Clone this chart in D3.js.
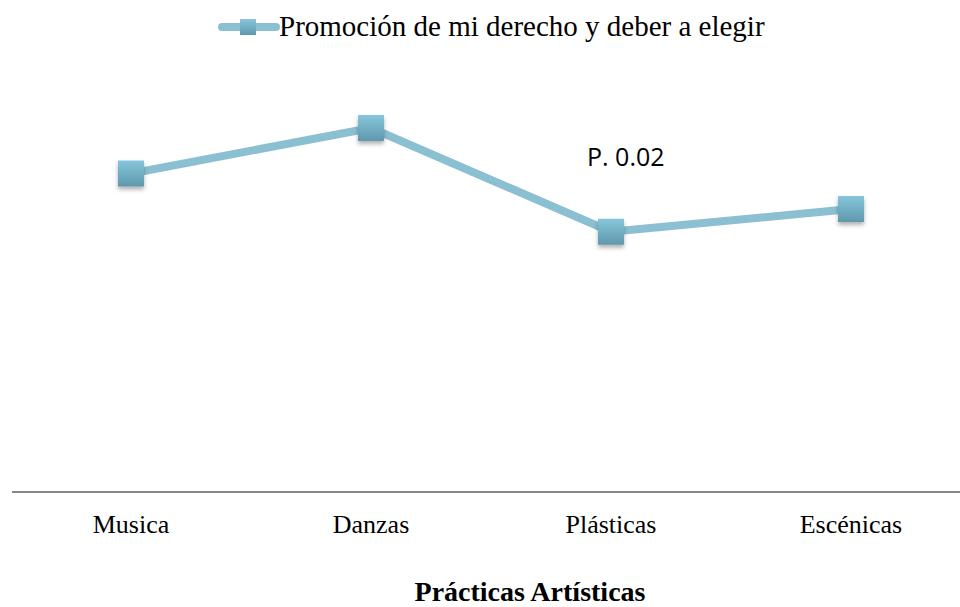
<!DOCTYPE html>
<html>
<head>
<meta charset="utf-8">
<script src="https://cdn.jsdelivr.net/npm/d3@7"></script>
<style>
  body { margin: 0; background: #fff; }
  svg { display: block; }
</style>
</head>
<body>
<svg id="chart" width="960" height="607"></svg>
<script>
// data (no y axis shown, values estimated)
const categories = ['Musica', 'Danzas', 'Plásticas', 'Escénicas'];
const values = [3.5, 4.0, 2.86, 3.11];
const seriesName = 'Promoción de mi derecho y deber a elegir';
const annotation = 'P. 0.02';
const axisTitle = 'Prácticas Artísticas';

const svg = d3.select('#chart');

const x = d3.scaleBand().domain(categories).range([11, 971]);
const y = d3.scaleLinear().domain([0, 5]).range([492, 37]);

// gradient + shadow for the square markers
const defs = svg.append('defs');
const grad = defs.append('linearGradient')
  .attr('id', 'mk').attr('x1', 0).attr('y1', 0).attr('x2', 0).attr('y2', 1);
grad.append('stop').attr('offset', '0%').attr('stop-color', '#86c6dc');
grad.append('stop').attr('offset', '100%').attr('stop-color', '#5f98ad');
const shadow = defs.append('filter').attr('id', 'sh')
  .attr('x', '-50%').attr('y', '-50%').attr('width', '200%').attr('height', '200%');
shadow.append('feDropShadow')
  .attr('dx', 0).attr('dy', 3).attr('stdDeviation', 2)
  .attr('flood-color', '#000').attr('flood-opacity', 0.3);

// x axis line
svg.append('line')
  .attr('x1', 12).attr('x2', 960)
  .attr('y1', y(0)).attr('y2', y(0))
  .attr('stroke', '#878787').attr('stroke-width', 2);

// category labels
svg.selectAll('text.cat')
  .data(categories)
  .enter().append('text')
    .attr('class', 'cat')
    .attr('x', d => x(d) + x.bandwidth() / 2)
    .attr('y', 533)
    .attr('text-anchor', 'middle')
    .attr('font-family', 'Liberation Serif, serif')
    .attr('font-size', '26px')
    .text(d => d);

// axis title
svg.append('text')
  .attr('x', 530).attr('y', 601)
  .attr('text-anchor', 'middle')
  .attr('font-family', 'Liberation Serif, serif')
  .attr('font-weight', 'bold')
  .attr('font-size', '28px')
  .text(axisTitle);

// the line
const pts = categories.map((c, i) => ({ c, v: values[i] }));
const line = d3.line()
  .x(d => x(d.c) + x.bandwidth() / 2)
  .y(d => y(d.v));

svg.append('path')
  .datum(pts)
  .attr('d', line)
  .attr('fill', 'none')
  .attr('stroke', '#8bbfd2')
  .attr('stroke-width', 8)
  .attr('stroke-linejoin', 'round')
  .attr('stroke-linecap', 'round');

const mk = 26;
svg.selectAll('rect.mk')
  .data(pts)
  .enter().append('rect')
    .attr('class', 'mk')
    .attr('x', d => x(d.c) + x.bandwidth() / 2 - mk / 2)
    .attr('y', d => y(d.v) - mk / 2)
    .attr('width', mk).attr('height', mk)
    .attr('fill', 'url(#mk)')
    .attr('filter', 'url(#sh)');

// annotation
svg.append('text')
  .attr('x', 587).attr('y', 166)
  .attr('font-family', 'Open Sans, sans-serif')
  .attr('font-size', '25px')
  .text(annotation);

// legend
const lg = svg.append('g');
lg.append('line')
  .attr('x1', 222).attr('x2', 276).attr('y1', 27).attr('y2', 27)
  .attr('stroke', '#8bbfd2').attr('stroke-width', 8)
  .attr('stroke-linecap', 'round');
lg.append('rect')
  .attr('x', 240).attr('y', 19).attr('width', 16).attr('height', 16)
  .attr('fill', 'url(#mk)');
lg.append('text')
  .attr('x', 279).attr('y', 36)
  .attr('font-family', 'Liberation Serif, serif')
  .attr('font-size', '29px')
  .text(seriesName);
</script>
</body>
</html>
